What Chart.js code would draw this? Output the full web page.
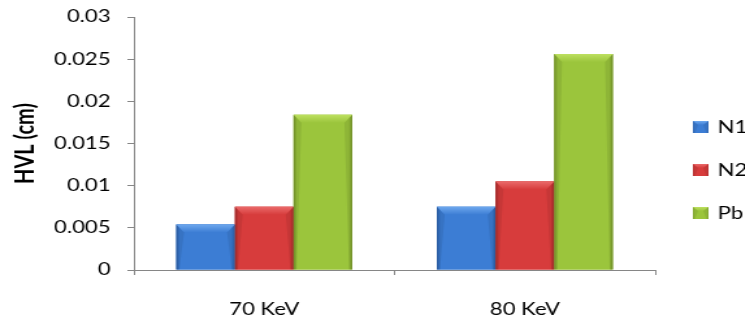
<!DOCTYPE html>
<html>
<head>
<meta charset="utf-8">
<script src="https://cdn.jsdelivr.net/npm/chart.js@4"></script>
<style>
    html, body { margin: 0; padding: 0; background: #fff; overflow: hidden; }
    /* chart is laid out narrow and widened, like the wide-set source plot */
    #wrap {
        position: absolute; left: 0; top: 0;
        width: 573px; height: 322px;
        transform: scaleX(1.3); transform-origin: left top;
    }
</style>
</head>
<body>
<div id="wrap"><canvas id="hvlChart"></canvas></div>
<script>
const categories = ['70 KeV', '80 KeV'];
const seriesNames = ['N1', 'N2', 'Pb'];
const n1Values = [0.0054, 0.0075];
const n2Values = [0.0075, 0.0105];
const pbValues = [0.0184, 0.0256];
const yTickLabels = ['0', '0.005', '0.01', '0.015', '0.02', '0.025', '0.03'];

// main / light / dark shade for each series
const palette = [
    { main: '#3c7dd4', light: '#6ea8ee', dark: '#2b5fa8' },
    { main: '#d73c3c', light: '#ea6a6a', dark: '#a82a2a' },
    { main: '#9bc53c', light: '#bde060', dark: '#76962a' }
];

const FONT = 'Lato';
const AXIS_GRAY = '#868686';

function paintBlock(ctx, x0, x1, y0, y1, c) {
    const w = x1 - x0, h = y1 - y0;
    if (w <= 0 || h <= 0) return;
    const body = ctx.createLinearGradient(x0, 0, x1, 0);
    body.addColorStop(0, c.dark);
    body.addColorStop(0.06, c.main);
    body.addColorStop(0.5, c.main);
    body.addColorStop(0.94, c.main);
    body.addColorStop(1, c.dark);
    ctx.fillStyle = body;
    ctx.fillRect(x0, y0, w, h);

    // bevel band on top
    const bx = Math.min(6, w / 3), by = Math.min(8, h / 3);
    const band = ctx.createLinearGradient(0, y0, 0, y0 + by);
    band.addColorStop(0, c.light);
    band.addColorStop(1, c.main);
    ctx.fillStyle = band;
    ctx.beginPath();
    ctx.moveTo(x0, y0);
    ctx.lineTo(x1, y0);
    ctx.lineTo(x1 - bx, y0 + by);
    ctx.lineTo(x0 + bx, y0 + by);
    ctx.closePath();
    ctx.fill();

    // slanted side corners
    ctx.fillStyle = 'rgba(0,0,0,0.08)';
    ctx.beginPath();
    ctx.moveTo(x0, y0);
    ctx.lineTo(x0 + bx, y0 + by);
    ctx.lineTo(x0 + bx * 0.4, y1);
    ctx.lineTo(x0, y1);
    ctx.closePath();
    ctx.fill();
    ctx.beginPath();
    ctx.moveTo(x1, y0);
    ctx.lineTo(x1 - bx, y0 + by);
    ctx.lineTo(x1 - bx * 0.4, y1);
    ctx.lineTo(x1, y1);
    ctx.closePath();
    ctx.fill();
}

const bevelBars = {
    id: 'bevelBars',
    afterDatasetsDraw(chart) {
        const ctx = chart.ctx;
        ctx.save();
        chart.data.datasets.forEach((ds, i) => {
            const meta = chart.getDatasetMeta(i);
            meta.data.forEach(bar => {
                const p = bar.getProps(['x', 'y', 'base', 'width'], true);
                paintBlock(ctx, p.x - p.width / 2, p.x + p.width / 2, p.y, p.base, palette[i]);
            });
        });
        ctx.restore();
    }
};

const sideLegend = {
    id: 'sideLegend',
    afterDraw(chart) {
        const ctx = chart.ctx;
        const left = chart.chartArea.right + 29;
        ctx.save();
        ctx.font = '17px ' + FONT;
        ctx.textBaseline = 'middle';
        ctx.textAlign = 'left';
        chart.data.datasets.forEach((ds, i) => {
            const cy = 127 + i * 43;
            paintBlock(ctx, left, left + 12, cy - 6, cy + 6, palette[i]);
            ctx.fillStyle = '#000';
            ctx.fillText(ds.label, left + 19, cy + 1);
        });
        ctx.restore();
    }
};

const seriesValues = [n1Values, n2Values, pbValues];

new Chart(document.getElementById('hvlChart'), {
    type: 'bar',
    data: {
        labels: categories,
        datasets: seriesNames.map((name, i) => ({
            label: name,
            data: seriesValues[i],
            backgroundColor: palette[i].main,
            borderWidth: 0,
            barPercentage: 1,
            categoryPercentage: 0.675
        }))
    },
    options: {
        responsive: true,
        maintainAspectRatio: false,
        animation: false,
        layout: { padding: { top: 17, right: 69, bottom: 0, left: 0 } },
        plugins: {
            legend: { display: false },
            tooltip: { enabled: false }
        },
        scales: {
            x: {
                afterFit(scale) {
                    scale.height = 52;
                    scale.paddingLeft = 0;
                    scale.paddingRight = 0;
                },
                grid: {
                    display: true,
                    offset: true,
                    drawOnChartArea: false,
                    drawTicks: true,
                    tickLength: 5,
                    color: AXIS_GRAY
                },
                border: { color: AXIS_GRAY, width: 1 },
                ticks: {
                    color: '#000',
                    padding: 24,
                    font: { family: FONT, size: 17 }
                }
            },
            y: {
                min: 0,
                max: 0.03,
                afterFit(scale) {
                    scale.width = 103;
                    scale.paddingTop = 0;
                    scale.paddingBottom = 0;
                },
                afterBuildTicks(scale) {
                    scale.ticks = yTickLabels.map(t => ({ value: parseFloat(t) }));
                },
                grid: {
                    display: true,
                    drawOnChartArea: false,
                    drawTicks: true,
                    tickLength: 5,
                    color: AXIS_GRAY
                },
                border: { color: AXIS_GRAY, width: 1 },
                ticks: {
                    color: '#000',
                    padding: 13,
                    font: { family: FONT, size: 17 },
                    callback: (v, i) => yTickLabels[i]
                },
                title: {
                    display: true,
                    text: 'HVL (cm)',
                    color: '#000',
                    padding: { top: 8, bottom: 0 },
                    font: { family: FONT, size: 20, weight: 'bold' }
                }
            }
        }
    },
    plugins: [bevelBars, sideLegend]
});
</script>
</body>
</html>
